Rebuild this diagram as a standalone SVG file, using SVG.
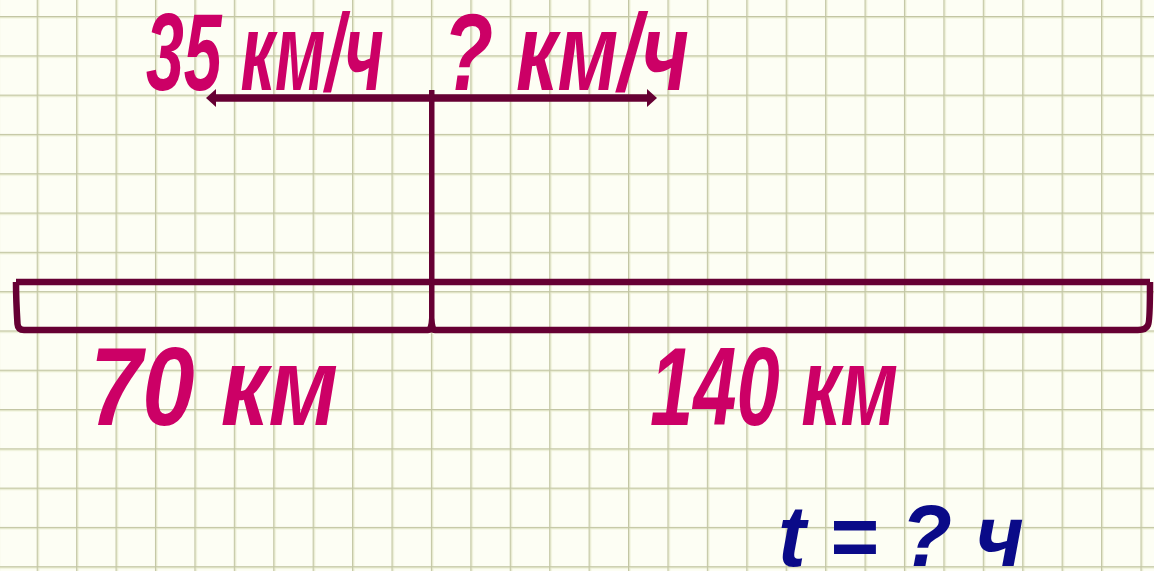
<svg xmlns="http://www.w3.org/2000/svg" width="1154" height="571" viewBox="0 0 1154 571">
<defs>
<style>
.gl{stroke:#c3c6a4;stroke-width:2.4;fill:none}
.gh{stroke:#eef1d6;stroke-width:5;fill:none}
.ln{stroke:#660033;fill:none;stroke-linecap:butt}
.lbl{font-family:"Liberation Sans Narrow","Liberation Sans",Arial,sans-serif;font-weight:bold;font-style:italic;fill:#cc0066}
.t{font-family:"Liberation Sans",Arial,sans-serif;font-weight:bold;font-style:italic;fill:#0a0a88;font-size:88px}
</style>
<marker id="ah" viewBox="0 0 10 18" refX="0" refY="9" markerWidth="10" markerHeight="18" markerUnits="userSpaceOnUse" orient="auto">
<path d="M0,0 L10,9 L0,18 Z" fill="#660033"/>
</marker>
<pattern id="grid" x="36.7" y="16" width="39.42" height="39.3" patternUnits="userSpaceOnUse">
<path class="gh" d="M0,-1 V41 M-1,0 H41"/>
<path class="gl" d="M0,-1 V41 M-1,0 H41"/>
</pattern>
</defs>
<g id="background">
<rect width="1154" height="571" fill="#fdfef4"/>
<rect width="1154" height="571" fill="url(#grid)"/>
</g>
<g id="connectors">
<line class="ln" x1="432" y1="98" x2="216" y2="98" stroke-width="7.5" marker-end="url(#ah)"/>
<line class="ln" x1="432" y1="98" x2="647" y2="98" stroke-width="7.5" marker-end="url(#ah)"/>
<path d="M429,90 H434.5 V318 Q435,328 438,331 H425 Q428.5,328 429,318 Z" fill="#660033"/>
</g>
<g id="segment">
<path class="ln" stroke-width="6.5" d="M16,282 H1150 M1150,282 Q1150,322 1148,325 Q1146,330 1138,330 H435 Q432,330 431.7,326 Q431,330 428,330 H24 Q18,330 17.5,324 Q16,300 16,282"/>
</g>
<g id="labels">
<text class="lbl" x="146" y="90" font-size="110" textLength="238" lengthAdjust="spacingAndGlyphs">35 км/ч</text>
<text class="lbl" x="443" y="90" font-size="110" textLength="246" lengthAdjust="spacingAndGlyphs">? км/ч</text>
<text class="lbl" x="90" y="425" font-size="112" textLength="248" lengthAdjust="spacingAndGlyphs">70 км</text>
<text class="lbl" x="650" y="425" font-size="112" textLength="248" lengthAdjust="spacingAndGlyphs">140 км</text>
<text class="t" x="778" y="566" textLength="246" lengthAdjust="spacingAndGlyphs">t = ? ч</text>
</g>
</svg>
